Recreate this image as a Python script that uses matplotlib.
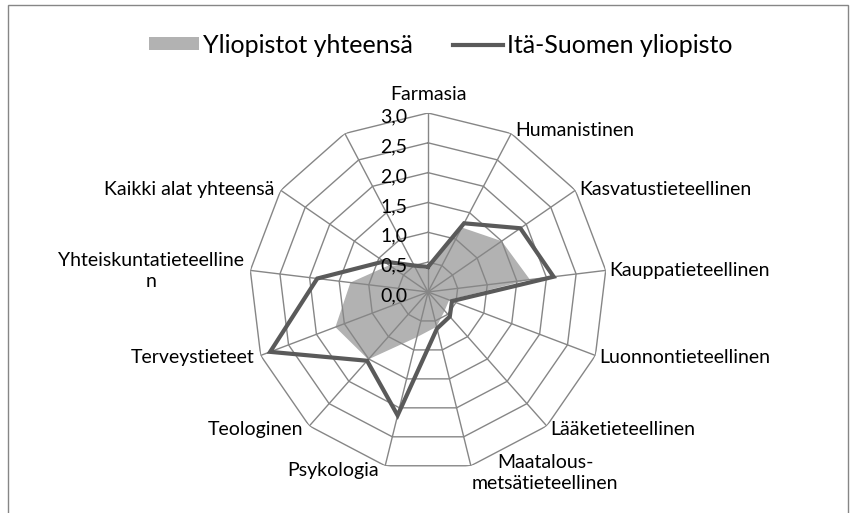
import matplotlib
matplotlib.use('Agg')
import matplotlib.pyplot as plt
from matplotlib.patches import Patch, Rectangle
from matplotlib.lines import Line2D
import numpy as np

plt.rcParams['font.family'] = ['Lato', 'DejaVu Sans']

# data
categories = ['Farmasia', 'Humanistinen', 'Kasvatustieteellinen', 'Kauppatieteellinen',
              'Luonnontieteellinen', 'Lääketieteellinen', 'Maatalous-\nmetsätieteellinen',
              'Psykologia', 'Teologinen', 'Terveystieteet', 'Yhteiskuntatieteelline\nn',
              'Kaikki alat yhteensä', '']
yliopistot = [0.38, 1.22, 1.50, 1.72, 0.38, 0.42, 0.60, 0.78, 1.51, 1.66, 1.31, 0.79, 0.47]
ita_suomi = [0.42, 1.30, 1.88, 2.12, 0.43, 0.55, 0.63, 2.13, 1.54, 2.83, 1.87, 0.90, 0.50]
rings = [0.5, 1.0, 1.5, 2.0, 2.5, 3.0]
ring_labels = ['0,0', '0,5', '1,0', '1,5', '2,0', '2,5', '3,0']

grid_col = '#868686'
fill_col = '#b2b2b2'
line_col = '#5a5a5a'

n = len(categories)
theta = np.arange(n) * 2 * np.pi / n
theta_c = np.append(theta, theta[0])

fig = plt.figure(figsize=(8.54, 5.13), dpi=100)
ax = fig.add_axes([0.2916, 0.0819, 0.4192, 0.6979], projection='polar')
ax.set_theta_zero_location('N')
ax.set_theta_direction(-1)
ax.set_ylim(0, 3)
ax.set_xticks([])
ax.set_yticks([])
ax.grid(False)
ax.spines['polar'].set_visible(False)
ax.patch.set_visible(False)

# series
ax.fill(theta_c, yliopistot + yliopistot[:1], color=fill_col, lw=0, zorder=1)
for r in rings:
    ax.plot(theta_c, [r] * (n + 1), color=grid_col, lw=1.0, zorder=2)
for t in theta:
    ax.plot([t, t], [0, 3], color=grid_col, lw=1.0, zorder=2)
ax.plot(theta_c, ita_suomi + ita_suomi[:1], color=line_col, lw=3.0, zorder=3,
        solid_joinstyle='miter')

# radial labels
for i, lab in enumerate(ring_labels):
    ax.annotate(lab, xy=(0, i * 0.5), xytext=(-21, -4), textcoords='offset pixels',
                ha='right', va='center', fontsize=14, color='black', zorder=4)

# category labels
for t, lab in zip(theta, categories):
    s, c = np.sin(t), np.cos(t)
    if abs(s) < 0.1:
        ha, dx, dy = 'center', 0, 18
    elif s > 0:
        ha, dx, dy = 'left', 4, 4 * c - 1
    else:
        ha, dx, dy = 'right', -6, 4 * c - 1
    if lab.startswith('Maatalous'):
        ha, dx, dy = 'left', 1, -7
    ax.annotate(lab, xy=(t, 3.0), xytext=(dx, dy), textcoords='offset pixels',
                ha=ha, va='center', multialignment='center', fontsize=14,
                linespacing=1.25)

# legend
handles = [Patch(facecolor=fill_col, edgecolor='none'),
           Line2D([0], [0], color=line_col, lw=3.0)]
fig.legend(handles, ['Yliopistot yhteensä', 'Itä-Suomen yliopisto'],
           loc='center', bbox_to_anchor=(0.516, 0.912), ncol=2, frameon=False,
           fontsize=18, handlelength=2.0, handleheight=0.45, handletextpad=0.15,
           columnspacing=1.6)

# chart border
fig.add_artist(Rectangle((8 / 854, -0.05), 840 / 854, 1.05 - 5 / 513,
                         transform=fig.transFigure, fill=False,
                         edgecolor=grid_col, lw=1.0))

fig.savefig('out.png', dpi=100)
